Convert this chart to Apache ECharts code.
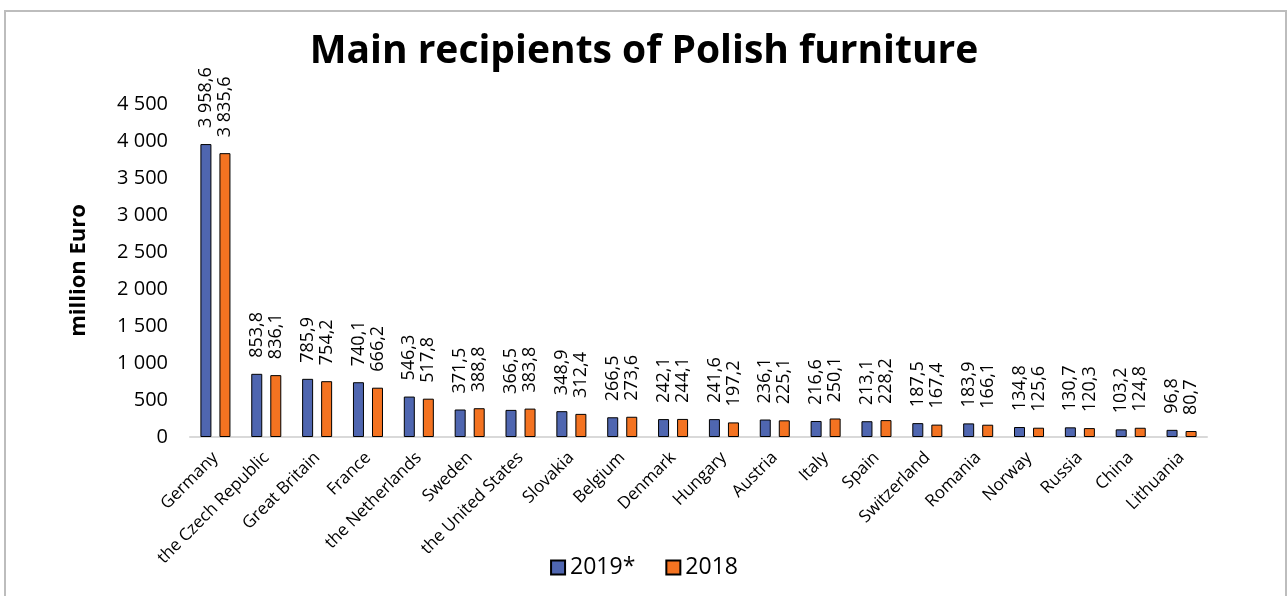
<!DOCTYPE html>
<html>
<head>
<meta charset="utf-8">
<script src="https://cdn.jsdelivr.net/npm/echarts@6/dist/echarts.min.js"></script>
<style>
html,body{margin:0;padding:0;background:#fff;}
#main{width:1288px;height:596px;}
</style>
</head>
<body>
<div id="main"></div>
<script>
var countries = ['Germany','the Czech Republic','Great Britain','France','the Netherlands','Sweden',
    'the United States','Slovakia','Belgium','Denmark','Hungary','Austria','Italy','Spain',
    'Switzerland','Romania','Norway','Russia','China','Lithuania'];
var v2019 = [3958.6,853.8,785.9,740.1,546.3,371.5,366.5,348.9,266.5,242.1,241.6,236.1,216.6,213.1,187.5,183.9,134.8,130.7,103.2,96.8];
var v2018 = [3835.6,836.1,754.2,666.2,517.8,388.8,383.8,312.4,273.6,244.1,197.2,225.1,250.1,228.2,167.4,166.1,125.6,120.3,124.8,80.7];

// 3958.6 -> "3 958,6"
function plFmt(v, dec){
    var s = v.toFixed(dec).split('.');
    var int = s[0].replace(/\B(?=(\d{3})+(?!\d))/g, ' ');
    return s.length > 1 ? int + ',' + s[1] : int;
}

var font = 'Open Sans';
var chart = echarts.init(document.getElementById('main'));

var labelOpt = {
    show: true,
    position: 'top',
    rotate: 90,
    align: 'left',
    verticalAlign: 'middle',
    distance: 16,
    fontFamily: font,
    fontSize: 18,
    color: '#000',
    formatter: function(p){ return plFmt(p.value, 1); }
};

var option = {
    animation: false,
    title: {
        text: 'Main recipients of Polish furniture',
        left: 'center',
        top: 27,
        textStyle: { fontFamily: font, fontWeight: 'bold', fontSize: 39, color: '#000' }
    },
    graphic: [{
        type: 'rect',
        shape: { x: 5, y: 11, width: 1281, height: 600 },
        style: { fill: 'none', stroke: '#bdbdbd', lineWidth: 2 }
    }],
    legend: {
        bottom: 12,
        left: 'center',
        icon: 'rect',
        itemWidth: 14,
        itemHeight: 14,
        itemGap: 30,
        textStyle: { fontFamily: font, fontSize: 23, color: '#000', padding: [0, 0, 0, 0] },
        data: ['2019*', '2018']
    },
    grid: { left: 190, right: 81, top: 104, bottom: 159 },
    xAxis: {
        type: 'category',
        data: countries,
        axisLine: { lineStyle: { color: '#d9d9d9', width: 2 } },
        axisTick: { show: false },
        axisLabel: { interval: 0, rotate: 45, margin: 18, fontFamily: font, fontSize: 17, color: '#000' }
    },
    yAxis: {
        type: 'value',
        min: 0,
        max: 4500,
        interval: 500,
        name: 'million Euro',
        nameLocation: 'middle',
        nameGap: 100,
        nameTextStyle: { fontFamily: font, fontWeight: 'bold', fontSize: 22, color: '#000' },
        splitLine: { show: false },
        axisLine: { show: false },
        axisTick: { show: false },
        axisLabel: { margin: 22, fontFamily: font, fontSize: 20, color: '#000',
            formatter: function(v){ return plFmt(v, 0); } }
    },
    series: [{
        name: '2019*',
        type: 'bar',
        data: v2019,
        barWidth: 11,
        barGap: '73%',
        itemStyle: { color: '#4F66B0', borderColor: '#000', borderWidth: 1 },
        label: labelOpt
    }, {
        name: '2018',
        type: 'bar',
        data: v2018,
        barWidth: 11,
        itemStyle: { color: '#F47321', borderColor: '#000', borderWidth: 1 },
        label: labelOpt
    }]
};
chart.setOption(option);
</script>
</body>
</html>
